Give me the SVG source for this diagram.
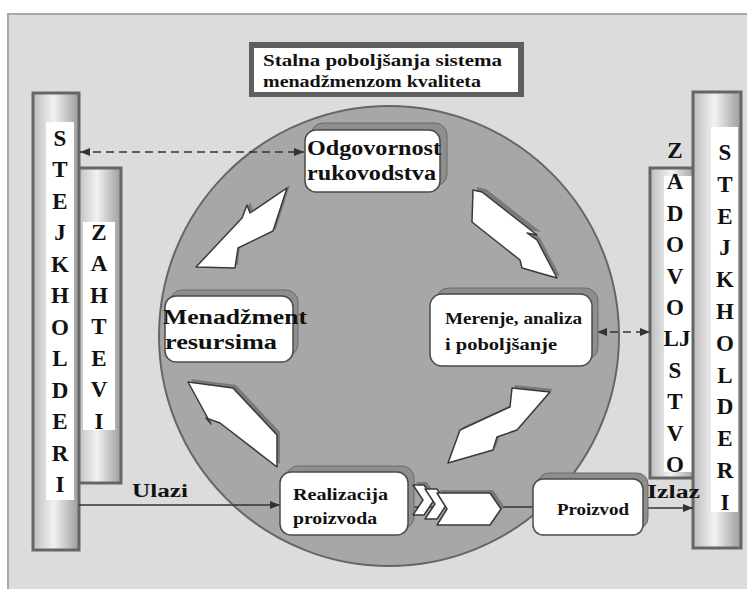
<svg xmlns="http://www.w3.org/2000/svg" width="747" height="589" viewBox="0 0 747 589">
<style>
text{font-family:"Liberation Serif","DejaVu Serif",serif}
.pl{font-weight:bold;font-size:23px;fill:#111;text-anchor:middle}
.nb{font-weight:bold;font-size:20px;fill:#111}
.nr{font-size:17px;fill:#111;font-weight:bold}
.lb{font-weight:bold;font-size:18px;fill:#111}
.box{fill:#fff;stroke:#4a4a4a;stroke-width:1.5}
.sh{fill:#8e8e8e;stroke:#6a6a6a;stroke-width:1}
.pil{fill:url(#pg);stroke:#666;stroke-width:3}
.strip{fill:#fff}
.ar{fill:#fff;stroke:#3a3a3a;stroke-width:1.5;stroke-linejoin:round}
.ars{fill:#7a7a7a;stroke:none}
.cn{stroke:#333;stroke-width:1.5;fill:none}
.dash{stroke-dasharray:8 5}
</style>
<defs>
<linearGradient id="pg" x1="0" y1="0" x2="1" y2="0">
<stop offset="0" stop-color="#bdbdbd"/>
<stop offset="0.45" stop-color="#f2f2f2"/>
<stop offset="1" stop-color="#9c9c9c"/>
</linearGradient>
<marker id="ah" viewBox="0 0 10 8" refX="10" refY="4" markerWidth="10" markerHeight="8" markerUnits="userSpaceOnUse" orient="auto-start-reverse">
<path d="M0,0 L10,4 L0,8 Z" fill="#333"/>
</marker>
</defs>

<rect x="0" y="0" width="747" height="589" fill="#fff"/>
<rect x="8" y="14" width="745" height="585" fill="#dcdcdc" stroke="#a8a8a8" stroke-width="2"/>

<g id="title">
<rect x="249" y="42" width="275" height="55" fill="#5f5f5f"/>
<rect x="254" y="48" width="264" height="44" fill="#fff"/>
<text class="nr" x="263" y="66" textLength="239" lengthAdjust="spacingAndGlyphs" style="font-size:16px">Stalna poboljšanja sistema</text>
<text class="nr" x="263" y="87" textLength="218" lengthAdjust="spacingAndGlyphs" style="font-size:16px">menadžmenzom kvaliteta</text>
</g>

<g id="circle">
<circle cx="389" cy="336" r="230" fill="#a7a7a7" stroke="#666" stroke-width="2"/>
</g>

<g id="pillar-zahtevi">
<rect class="pil" x="77" y="168" width="44" height="315"/>
<rect class="strip" x="83" y="222" width="32" height="208"/>
<text class="pl"><tspan x="99" y="240">Z</tspan><tspan x="99" y="271">A</tspan><tspan x="99" y="303">H</tspan><tspan x="99" y="334">T</tspan><tspan x="99" y="366">E</tspan><tspan x="99" y="397">V</tspan><tspan x="99" y="429">I</tspan></text>
</g>

<g id="pillar-stejkholderi-left">
<rect class="pil" x="33" y="93" width="46" height="457"/>
<rect class="strip" x="46" y="122" width="28" height="378"/>
<text class="pl"><tspan x="60" y="146">S</tspan><tspan x="60" y="177">T</tspan><tspan x="60" y="209">E</tspan><tspan x="60" y="240">J</tspan><tspan x="60" y="272">K</tspan><tspan x="60" y="303">H</tspan><tspan x="60" y="335">O</tspan><tspan x="60" y="366">L</tspan><tspan x="60" y="398">D</tspan><tspan x="60" y="429">E</tspan><tspan x="60" y="461">R</tspan><tspan x="60" y="492">I</tspan></text>
</g>

<g id="pillar-zadovoljstvo">
<rect class="pil" x="650" y="168" width="46" height="310"/>
<rect class="strip" x="664" y="176" width="30" height="296"/>
<text class="pl"><tspan x="675" y="158">Z</tspan><tspan x="675" y="189">A</tspan><tspan x="675" y="221">D</tspan><tspan x="675" y="252">O</tspan><tspan x="675" y="284">V</tspan><tspan x="675" y="315">O</tspan><tspan x="677" y="346">LJ</tspan><tspan x="675" y="378">S</tspan><tspan x="675" y="409">T</tspan><tspan x="675" y="441">V</tspan><tspan x="675" y="472">O</tspan></text>
</g>

<g id="pillar-stejkholderi-right">
<rect class="pil" x="693" y="92" width="48" height="456"/>
<rect class="strip" x="711" y="127" width="27" height="385"/>
<text class="pl"><tspan x="725" y="160">S</tspan><tspan x="725" y="192">T</tspan><tspan x="725" y="224">E</tspan><tspan x="725" y="255">J</tspan><tspan x="725" y="287">K</tspan><tspan x="725" y="319">H</tspan><tspan x="725" y="351">O</tspan><tspan x="725" y="383">L</tspan><tspan x="725" y="414">D</tspan><tspan x="725" y="446">E</tspan><tspan x="725" y="478">R</tspan><tspan x="725" y="510">I</tspan></text>
</g>

<g id="cycle-arrows">
<polygon class="ars" points="290,185 276,229 240,246 238,265 199,264 245,214 250,202 253,210"/>
<polygon class="ar" points="287,188 273,231 238,248 235,268 196,267 242,218 247,205 250,213"/>
<polygon class="ars" points="477,187 486,189 541,232 530,230 540,238 560,276 525,266 523,258 476,220"/>
<polygon class="ar" points="473,190 482,192 537,235 527,233 537,240 557,278 522,268 520,260 472,222"/>
<polygon class="ars" points="452,460 463,427 513,404 515,385 553,389 520,427 500,434 496,447"/>
<polygon class="ar" points="448,463 460,430 510,407 512,388 550,392 517,430 497,437 493,450"/>
<polygon class="ars" points="191,379 236,385 280,432 280,464 223,420 209,415 214,421"/>
<polygon class="ar" points="188,382 233,388 277,435 277,467 220,423 206,418 211,424"/>
</g>

<g id="connectors">
<line class="cn dash" x1="80" y1="152" x2="304" y2="152" marker-start="url(#ah)" marker-end="url(#ah)"/>
<line class="cn dash" x1="597" y1="332" x2="650" y2="332" marker-start="url(#ah)" marker-end="url(#ah)"/>
<line class="cn" x1="79" y1="505" x2="280" y2="505" marker-end="url(#ah)"/>
<line class="cn" x1="408" y1="507" x2="533" y2="507"/>
<line class="cn" x1="643" y1="508" x2="693" y2="508" marker-end="url(#ah)"/>
<text class="lb" x="132" y="497" textLength="56" lengthAdjust="spacingAndGlyphs">Ulazi</text>
<text class="lb" x="647" y="498" textLength="53" lengthAdjust="spacingAndGlyphs">Izlaz</text>
</g>

<g id="node-odgovornost">
<rect class="sh" x="311" y="123" width="136" height="63" rx="12"/>
<rect class="box" x="305" y="130" width="135" height="62" rx="11"/>
<text class="nb" x="307" y="155" textLength="134" lengthAdjust="spacingAndGlyphs">Odgovornost</text>
<text class="nb" x="307" y="180" textLength="129" lengthAdjust="spacingAndGlyphs">rukovodstva</text>
</g>

<g id="node-menadzment">
<rect class="sh" x="170" y="290" width="128" height="66" rx="12"/>
<rect class="box" x="165" y="296" width="128" height="66" rx="11"/>
<text class="nb" x="163" y="324" textLength="144" lengthAdjust="spacingAndGlyphs">Menadžment</text>
<text class="nb" x="165" y="349" textLength="112" lengthAdjust="spacingAndGlyphs">resursima</text>
</g>

<g id="node-merenje">
<rect class="sh" x="436" y="288" width="162" height="72" rx="13"/>
<rect class="box" x="430" y="294" width="162" height="72" rx="12"/>
<text class="nr" x="445" y="324" textLength="137" lengthAdjust="spacingAndGlyphs">Merenje, analiza</text>
<text class="nr" x="445" y="350" textLength="112" lengthAdjust="spacingAndGlyphs">i poboljšanje</text>
</g>

<g id="node-realizacija">
<rect class="sh" x="286" y="466" width="128" height="63" rx="12"/>
<rect class="box" x="280" y="472" width="128" height="63" rx="11"/>
<text class="nr" x="293" y="500" textLength="95" lengthAdjust="spacingAndGlyphs">Realizacija</text>
<text class="nr" x="293" y="524" textLength="84" lengthAdjust="spacingAndGlyphs">proizvoda</text>
</g>

<g id="chevrons">
<polygon class="ars" points="416,482 427,482 437,497 427,512 416,512 426,497"/>
<polygon class="ar" points="413,485 424,485 434,500 424,515 413,515 423,500"/>
<polygon class="ar" points="425,489 437,489 447,504 437,519 425,519 435,504"/>
<polygon class="ars" points="440,490 493,490 504,506 493,522 440,522 450,506"/>
<polygon class="ar" points="437,493 490,493 501,509 490,525 437,525 447,509"/>
</g>

<g id="node-proizvod">
<rect class="sh" x="538" y="473" width="110" height="56" rx="11"/>
<rect class="box" x="533" y="479" width="110" height="56" rx="10"/>
<text class="nr" x="557" y="515" textLength="72" lengthAdjust="spacingAndGlyphs">Proizvod</text>
</g>
</svg>
